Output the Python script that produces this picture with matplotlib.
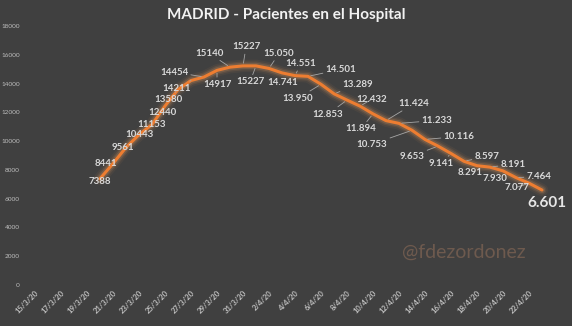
import pandas as pd
import matplotlib
matplotlib.use("Agg")
import matplotlib.pyplot as plt

# Hospitalised patients in Madrid, daily from 20/3/20
start_date = "2020-03-20"
patients = [7388, 8441, 9561, 10443, 11153, 12440, 13580, 14211, 14454, 14917,
            15140, 15227, 15227, 15050, 14741, 14551, 14501, 13950, 13289, 12853,
            12432, 11894, 11424, 11233, 10753, 10116, 9653, 9141, 8597, 8291,
            8191, 7930, 7464, 7077, 6601]
# the first stretch is labelled plainly, the rest with a thousands dot
plain_labels = 13

# label offsets in pixels (dx right, dy down) from each point
label_offsets = [(0, 3), (-7, 0), (-3, 0), (0, 0), (0, 0), (-3, 6), (-10, 10),
                 (-14, 8), (-30, -5), (0, 14), (-21, -14), (3, -19), (-6, 16),
                 (10, -15), (1, 10), (6, -12), (33, -7), (-23, 14), (24, -9),
                 (-19, 14), (12, -7), (-12, 15), (28, -17), (38, -3), (-40, 14),
                 (34, -3), (-26, 10), (-10, 10), (23, -5), (-7, 7), (23, -3),
                 (-8, 8), (23, -1), (-12, 4), (5, 13)]

BG = "#404040"
ORANGE = "#ED7D31"
LABEL = "#d9d9d9"
FONT = "Lato"

dates = pd.date_range(start_date, periods=len(patients))
tick_dates = pd.date_range("2020-03-15", "2020-04-22", freq="2D")
tick_labels = [f"{d.day}/{d.month}/{d.strftime('%y')}" for d in tick_dates]

fig = plt.figure(figsize=(5.72, 3.26), dpi=100, facecolor=BG)
ax = fig.add_axes([22 / 572, 41 / 326, 533 / 572, 259 / 326], facecolor=BG)

# soft glow under the line
for lw, a in [(9, 0.06), (6.5, 0.10), (4.5, 0.18)]:
    ax.plot(dates, patients, color="#f4a460", lw=lw, alpha=a,
            solid_capstyle="round", solid_joinstyle="round")
ax.plot(dates, patients, color=ORANGE, lw=2.2, solid_capstyle="round",
        solid_joinstyle="round", zorder=3)

for i, (d, v) in enumerate(zip(dates, patients)):
    txt = str(v) if i < plain_labels else f"{v:,}".replace(",", ".")
    dx, dy = label_offsets[i]
    last = i == len(patients) - 1
    lead = (dx * dx + dy * dy) > 150 and not last
    ax.annotate(txt, (d, v), xytext=(dx * 0.72, -dy * 0.72),
                textcoords="offset points", ha="center", va="center",
                fontsize=11 if last else 7, fontweight="bold",
                color="#e6e6e6" if last else LABEL, family=FONT, zorder=4,
                arrowprops=dict(arrowstyle="-", color="#a6a6a6", lw=0.6,
                                shrinkA=0, shrinkB=2) if lead else None)

ax.set_xlim(pd.Timestamp("2020-03-14"), pd.Timestamp("2020-04-24"))
ax.set_ylim(0, 18000)
ax.set_yticks(range(0, 18001, 2000))
ax.set_xticks(tick_dates)
ax.set_xticklabels(tick_labels, rotation=45, ha="right", va="top",
                   rotation_mode="anchor", fontsize=5.5, fontweight="bold",
                   color="#bfbfbf", family=FONT)
for t in ax.get_yticklabels():
    t.set_fontsize(4.6)
    t.set_color("#bfbfbf")
    t.set_family(FONT)
ax.tick_params(axis="y", length=0, pad=1.5)
ax.tick_params(axis="x", length=0, pad=3)
for s in ax.spines.values():
    s.set_visible(False)

fig.text(0.5, 1 - 15 / 326, "MADRID - Pacientes en el Hospital", ha="center",
         va="center", fontsize=11, fontweight="bold", color="#f2f2f2",
         family=FONT)
fig.text(464 / 572, 1 - 252 / 326, "@fdezordonez", ha="center", va="center",
         fontsize=14, color="#6e5a4e", family=FONT)

fig.savefig("out.png", dpi=100, facecolor=BG)
